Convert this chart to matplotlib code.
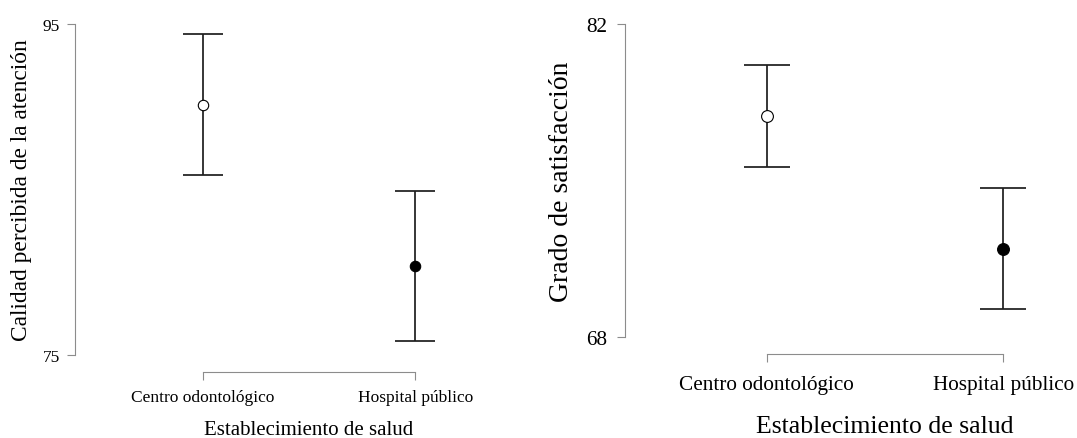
import matplotlib
matplotlib.use("Agg")
import matplotlib.pyplot as plt

plt.rcParams['font.family'] = ['Liberation Serif', 'DejaVu Serif']

categories = ["Centro odontológico", "Hospital público"]
xlabel = "Establecimiento de salud"

# Panel 1: Calidad percibida de la atención
calidad_mean = [90.13, 80.38]
calidad_lower = [85.90, 75.87]
calidad_upper = [94.41, 84.89]
calidad_ticks = [75, 95]
calidad_ylabel = "Calidad percibida de la atención"

# Panel 2: Grado de satisfacción
satisf_mean = [77.88, 71.95]
satisf_lower = [75.59, 69.27]
satisf_upper = [80.18, 74.66]
satisf_ticks = [68, 82]
satisf_ylabel = "Grado de satisfacción"

W, H = 1077, 439
fig = plt.figure(figsize=(W / 100, H / 100), dpi=100)

AXIS_COLOR = "#8c8c8c"
BAR_COLOR = "#1e1e1e"


def panel(px_left, px_right, px_top, px_bottom, px_cat0, px_cat1,
          px_tick_lo, px_tick_hi, ticks, mean, lower, upper, ylab,
          tick_fs, xlab_fs, ylab_fs, ms, px_ylab_x, px_xlab_y, xpad, ypad,
          cap_px):
    ax = fig.add_axes([px_left / W, 1 - px_bottom / H,
                       (px_right - px_left) / W, (px_bottom - px_top) / H])
    xu = px_cat1 - px_cat0
    ax.set_xlim(-(px_cat0 - px_left) / xu, 1 + (px_right - px_cat1) / xu)
    yu = (px_tick_lo - px_tick_hi) / (ticks[1] - ticks[0])
    ax.set_ylim(ticks[0] - (px_bottom - px_tick_lo) / yu,
                ticks[1] + (px_tick_hi - px_top) / yu)
    x = list(range(len(categories)))
    yerr = [[m - l for m, l in zip(mean, lower)],
            [u - m for m, u in zip(mean, upper)]]
    ax.errorbar(x, mean, yerr=yerr, fmt="none", ecolor=BAR_COLOR,
                elinewidth=1.25, capsize=cap_px * 0.72, capthick=1.25, zorder=2)
    faces = ["white", "black"]
    for xi, m, fc in zip(x, mean, faces):
        ax.plot([xi], [m], marker="o", ms=ms, mfc=fc, mec="black",
                mew=0.8, ls="none", zorder=3)
    for s in ["top", "right"]:
        ax.spines[s].set_visible(False)
    ax.spines["left"].set_bounds(ticks[0], ticks[1])
    ax.spines["bottom"].set_bounds(0, 1)
    for s in ["left", "bottom"]:
        ax.spines[s].set_color(AXIS_COLOR)
        ax.spines[s].set_linewidth(0.8)
    ax.set_yticks(ticks)
    ax.set_yticklabels([str(t) for t in ticks])
    ax.set_xticks(x)
    ax.set_xticklabels(categories)
    ax.tick_params(axis="both", color=AXIS_COLOR, width=0.8, length=6,
                   labelsize=tick_fs, labelcolor="black")
    ax.tick_params(axis="x", pad=xpad)
    ax.tick_params(axis="y", pad=ypad)
    ax.set_ylabel(ylab, fontsize=ylab_fs)
    ax.yaxis.label.set_va("center")
    ax.yaxis.set_label_coords((px_ylab_x - px_left) / (px_right - px_left),
                              (px_bottom - (px_tick_lo + px_tick_hi) / 2) / (px_bottom - px_top))
    ax.set_xlabel(xlabel, fontsize=xlab_fs)
    ax.xaxis.label.set_va("center")
    ax.xaxis.set_label_coords(((px_cat0 + px_cat1) / 2 - px_left) / (px_right - px_left),
                              -(px_xlab_y - px_bottom) / (px_bottom - px_top))
    ax.set_facecolor("none")
    return ax


panel(75, 480, 15, 373.3, 203, 415.2, 356, 25, calidad_ticks,
      calidad_mean, calidad_lower, calidad_upper, calidad_ylabel,
      tick_fs=12.5, xlab_fs=15, ylab_fs=16.8, ms=7.5, px_ylab_x=22,
      px_xlab_y=431, xpad=6, ypad=5, cap_px=20)
panel(625, 1070, 15, 355, 766.8, 1003.1, 338.3, 25, satisf_ticks,
      satisf_mean, satisf_lower, satisf_upper, satisf_ylabel,
      tick_fs=15.3, xlab_fs=18.5, ylab_fs=20, ms=8.5, px_ylab_x=561,
      px_xlab_y=427.5, xpad=9, ypad=7, cap_px=23)

fig.savefig("out.png", dpi=100, facecolor="white")
